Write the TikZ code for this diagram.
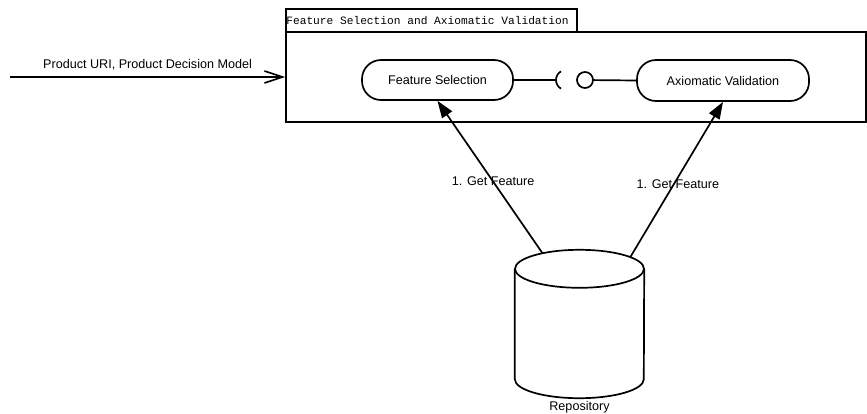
\documentclass[tikz,border=0pt]{standalone}
\usepackage{fontspec}
\setmainfont{Liberation Sans}
\setmonofont{Liberation Mono}
\usepackage{tikz}
\usetikzlibrary{arrows.meta,positioning,calc,shapes.geometric}
\tikzset{arr/.style={-{Triangle[length=17pt,width=12pt]},line width=1.7pt},
  flow/.style={-{Straight Barb[length=18pt,width=12pt]},line width=1.7pt},
  frame/.style={draw,line width=1.7pt,inner sep=0pt},
  comp/.style={draw,rounded corners=19pt,line width=1.7pt,inner sep=0pt,font=\fontsize{12.6}{15}\selectfont},
  lbl/.style={font=\fontsize{12.6}{15}\selectfont,inner sep=1pt}}

\begin{document}
\begin{tikzpicture}[x=1pt,y=-1pt]
\useasboundingbox (0,0) rectangle (867,413);
\node[frame,minimum width=291pt,minimum height=23pt] (tab) at (431.5,20.5) {};
\node[frame,minimum width=580pt,minimum height=90pt] (box) at (576,77) {};
\node[anchor=west,inner sep=1pt,font=\ttfamily\fontsize{11.2}{13}\selectfont] (title) at (tab.west) {Feature Selection and Axiomatic Validation};
\node[comp,minimum width=151pt,minimum height=40pt] (fs) at (437.5,80) {Feature Selection};
\node[comp,minimum width=172pt,minimum height=41pt] (av) at (723,80.5) {Axiomatic Validation};
% provided / required interface
\node[circle,draw,line width=1.7pt,minimum size=16pt,inner sep=0pt] (ball) at (585,80) {};
\coordinate (sock) at (556,80);
\draw[line width=1.7pt] (fs.east) -- (sock);
\draw[line width=1.7pt] (sock) arc[start angle=180,end angle=120,radius=10pt];
\draw[line width=1.7pt] (sock) arc[start angle=180,end angle=240,radius=10pt];
\draw[line width=1.7pt] (ball) -- (av.west);
% repository
\node[minimum width=129pt,minimum height=148pt,inner sep=0pt] (repo) at (579.5,324) {};
\coordinate (repotop) at ($(repo.north)+(0,19)$);
\draw[line width=1.7pt] ($(repo.north west)+(0,19)$) -- ($(repo.south west)+(0,-19)$)
  arc[start angle=180,end angle=360,x radius=64.5pt,y radius=19pt] -- ($(repo.north east)+(0,19)$);
\draw[line width=1.7pt] (repotop) ellipse[x radius=64.5pt,y radius=19pt];
\coordinate (getA) at ($(repotop)+(125:64.5pt and 19pt)$);
\coordinate (getB) at ($(repotop)+(38:64.5pt and 19pt)$);
\node[lbl,below=2pt of repo] (repolbl) {Repository};
\coordinate (src) at (10,77);
\draw[flow] (src) -- node[lbl,above=5pt] {Product URI, Product Decision Model} (box.west);
\draw[arr] (getA) -- node[lbl,pos=0.47] {1. Get Feature} (fs.south);
\draw[arr] (getB) -- node[lbl,pos=0.47,xshift=4pt] {1. Get Feature} (av.south);
\end{tikzpicture}
\end{document}
